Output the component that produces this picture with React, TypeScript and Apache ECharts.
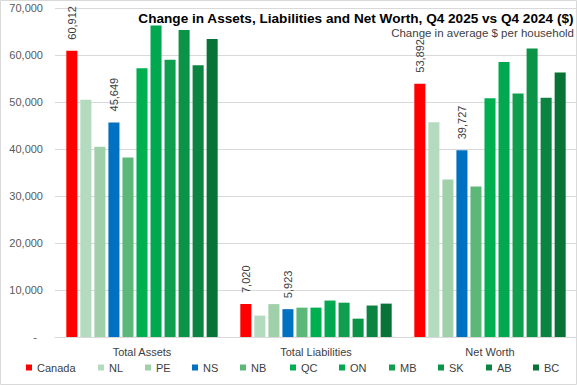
import React, { useEffect, useRef } from "react";
import * as echarts from "echarts";

const categories = ["Total Assets", "Total Liabilities", "Net Worth"];
const regions = ["Canada", "NL", "PE", "NS", "NB", "QC", "ON", "MB", "SK", "AB", "BC"];

const canada = [60912, 7020, 53892];
const nl = [50500, 4550, 45700];
const pe = [40500, 7000, 33500];
const ns = [45649, 5923, 39727];
const nb = [38200, 6250, 32000];
const qc = [57200, 6250, 50800];
const on = [66300, 7750, 58500];
const mb = [59000, 7300, 51800];
const sk = [65300, 3900, 61400];
const ab = [57800, 6700, 50900];
const bc = [63400, 7100, 56300];

const seriesValues = [canada, nl, pe, ns, nb, qc, on, mb, sk, ab, bc];
const labelledRegions = ["Canada", "NS"];

const yTicks = { min: 0, max: 70000, interval: 10000 };

const colors = [
  "#FF0000",
  "#B4DBBF",
  "#9FD0A9",
  "#0070C0",
  "#5CB878",
  "#00B050",
  "#02A84F",
  "#0E9E4D",
  "#0B9347",
  "#0A8440",
  "#077336",
];

const legendLeft = [26, 98, 145, 192, 240, 290, 339, 389, 438, 486, 533];

const TEXT = "#404040";
const GRID = "#D9D9D9";
const FONT = "'Liberation Sans', Arial, sans-serif";
const NARROW = "'Liberation Sans Narrow', 'Arial Narrow', 'Liberation Sans', sans-serif";

export default function App() {
  const ref = useRef<HTMLDivElement>(null);

  useEffect(() => {
    if (!ref.current) return;
    const chart = echarts.init(ref.current, undefined, { renderer: "svg" });

    const fmt = (v: number) =>
      v === 0 ? "-\u00a0\u00a0" : Math.round(v).toLocaleString("en-US");

    const series = regions.map((name, i) => ({
      name,
      type: "bar",
      data: seriesValues[i],
      barCategoryGap: "13%",
      barGap: "27%",
      itemStyle: { color: colors[i] },
      label: {
        show: labelledRegions.includes(name),
        position: "top",
        rotate: 90,
        align: "left",
        verticalAlign: "middle",
        distance: 11,
        color: TEXT,
        fontSize: 11,
        fontFamily: FONT,
        formatter: (p: any) => fmt(p.value),
      },
    }));

    const legends = regions.map((name, i) => ({
      data: [{ name, icon: "rect" }],
      left: legendLeft[i],
      top: 362,
      itemWidth: 6,
      itemHeight: 6,
      padding: 0,
      textStyle: { color: TEXT, fontSize: 11, fontFamily: FONT },
      selectedMode: false,
    }));

    chart.setOption({
      animation: false,
      backgroundColor: "#FFFFFF",
      title: [
        {
          text: "Change in Assets, Liabilities and Net Worth, Q4 2025 vs Q4 2024 ($)",
          right: 3,
          top: 11,
          padding: 0,
          textStyle: {
            color: "#000000",
            fontSize: 13.6,
            fontWeight: "bold",
            fontFamily: NARROW,
          },
        },
        {
          text: "Change in average $ per household",
          right: 3,
          top: 27,
          padding: 0,
          textStyle: {
            color: TEXT,
            fontSize: 11.5,
            fontWeight: "normal",
            fontFamily: FONT,
          },
        },
      ],
      graphic: [
        {
          type: "rect",
          shape: { x: 0.5, y: 0.5, width: 576, height: 384 },
          style: { fill: "none", stroke: GRID, lineWidth: 1 },
          silent: true,
          z: -1,
        },
      ],
      legend: legends,
      grid: { left: 55, right: 0, top: 8, bottom: 48, containLabel: false },
      xAxis: {
        type: "category",
        data: categories,
        axisLine: { show: true, lineStyle: { color: GRID, width: 1 } },
        axisTick: { show: false },
        axisLabel: { color: TEXT, fontSize: 11, fontFamily: FONT, margin: 9 },
      },
      yAxis: {
        type: "value",
        min: yTicks.min,
        max: yTicks.max,
        interval: yTicks.interval,
        axisLine: { show: false },
        axisTick: { show: false },
        splitLine: { lineStyle: { color: GRID, width: 1 } },
        axisLabel: {
          color: "#595959",
          fontSize: 11,
          fontFamily: FONT,
          margin: 12,
          formatter: fmt,
        },
      },
      series,
    });

    return () => chart.dispose();
  }, []);

  return (
    <div
      ref={ref}
      style={{ position: "fixed", left: 0, top: 0, width: 577, height: 385 }}
    />
  );
}
